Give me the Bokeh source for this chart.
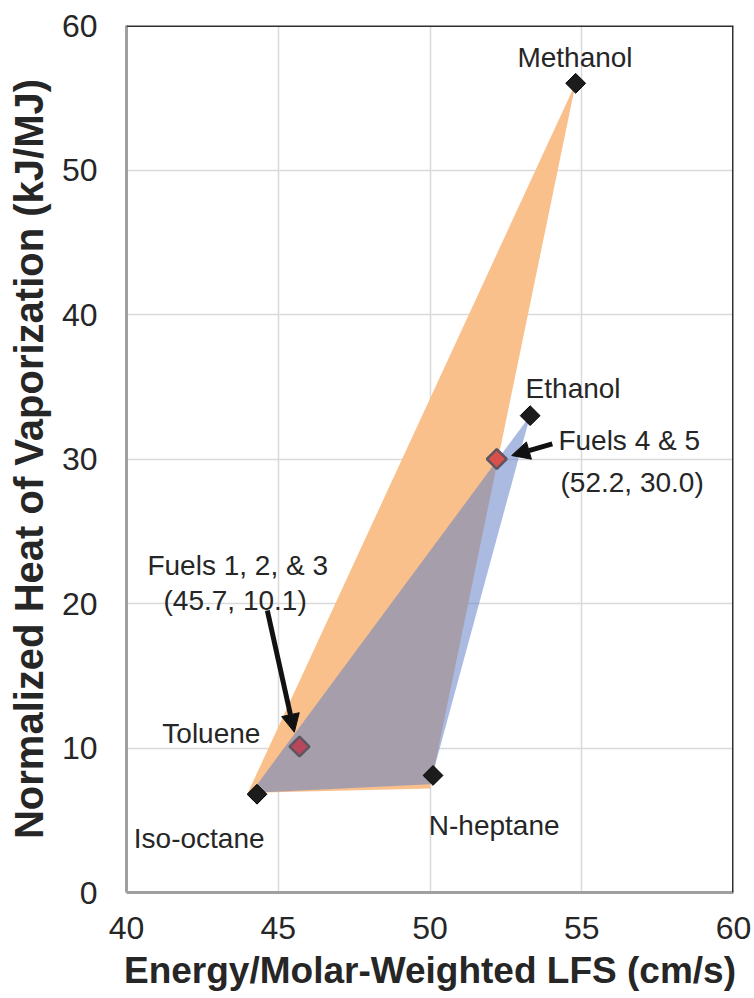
import numpy as np
from bokeh.plotting import figure
from bokeh.models import ColumnDataSource, Arrow, NormalHead, Range1d, FixedTicker, Span
from bokeh.embed import file_html
from bokeh.resources import INLINE
from bokeh.core.properties import value

# ---- data ----
fuels = ["Methanol", "Ethanol", "Toluene", "Iso-octane", "N-heptane"]
lfs = [54.8, 53.3, 45.7, 44.3, 50.1]
hov = [56.0, 33.0, 10.1, 6.8, 8.1]

blend_names = ["Fuels 1, 2, & 3", "Fuels 4 & 5"]
blend_lfs = [45.7, 52.2]
blend_hov = [10.1, 30.0]
blend_fill = ["#B8475C", "#D9504A"]

# shaded regions (vertices)
orange_x = [44.0, 54.8, 50.0]
orange_y = [6.9, 56.0, 7.2]
blue_x = [44.1, 53.3, 50.0]
blue_y = [6.9, 33.0, 7.5]

# annotation labels
label_text = ["Methanol", "Ethanol", "Toluene", "Iso-octane", "N-heptane",
              "Fuels 4 & 5", "(52.2, 30.0)", "Fuels 1, 2, & 3", "(45.7, 10.1)"]
label_x = [52.88, 53.15, 41.18, 40.24, 49.96, 54.23, 54.30, 40.69, 41.22]
label_y = [57.76, 34.88, 10.98, 3.72, 4.64, 31.28, 28.39, 22.63, 20.21]

# arrows
arrow_x0 = [44.64, 54.03]
arrow_y0 = [19.52, 31.05]
arrow_x1 = [45.53, 52.69]
arrow_y1 = [11.09, 30.24]

x_ticks = [40, 45, 50, 55, 60]
y_ticks = [0, 10, 20, 30, 40, 50, 60]

FONT = "Liberation Sans"
TXT = "#262626"

p = figure(width=754, height=998, x_range=Range1d(40, 60), y_range=Range1d(0, 60),
           output_backend="svg", toolbar_location=None,
           min_border_left=126, min_border_right=21, min_border_top=25, min_border_bottom=106)
p.background_fill_color = "white"
p.border_fill_color = "white"
p.outline_line_color = None

# grid
p.xaxis.ticker = FixedTicker(ticks=x_ticks)
p.yaxis.ticker = FixedTicker(ticks=y_ticks)
p.xgrid.ticker = FixedTicker(ticks=x_ticks)
p.ygrid.ticker = FixedTicker(ticks=y_ticks)
for g in (p.xgrid, p.ygrid):
    g.grid_line_color = "#d9d9d9"
    g.grid_line_width = 1.5

# axes
for ax in (p.xaxis, p.yaxis):
    ax.axis_line_color = "#a0a0a0"
    ax.axis_line_width = 3
    ax.major_tick_line_color = None
    ax.minor_tick_line_color = None
    ax.major_tick_out = 0
    ax.major_tick_in = 0
    ax.minor_tick_out = 0
    ax.major_label_text_font = FONT
    ax.major_label_text_font_size = "32px"
    ax.major_label_text_color = TXT
    ax.axis_label_text_font = FONT
    ax.axis_label_text_font_style = "bold"
    ax.axis_label_text_color = TXT

p.xaxis.axis_label = "Energy/Molar-Weighted LFS (cm/s)"
p.yaxis.axis_label = "Normalized Heat of Vaporization (kJ/MJ)"
p.xaxis.axis_label_text_font_size = "37px"
p.yaxis.axis_label_text_font_size = "40px"
p.xaxis.major_label_standoff = 24
p.yaxis.major_label_standoff = 29
p.xaxis.axis_label_standoff = 8
p.yaxis.axis_label_standoff = 8

# top and right frame lines
p.add_layout(Span(location=60, dimension="width", line_color="#303030", line_width=3))
p.add_layout(Span(location=60, dimension="height", line_color="#303030", line_width=3))

# shaded regions
p.patch(orange_x, orange_y, fill_color="#F9C08B", line_color=None)
p.patch(blue_x, blue_y, fill_color="#6482C8", fill_alpha=0.55, line_color=None)

# fuel markers
src = ColumnDataSource(dict(x=lfs, y=hov, name=fuels))
p.scatter("x", "y", source=src, marker="square", angle=np.pi / 4, size=14,
          fill_color="#1c1c1c", line_color="#000000", line_width=1)

# blend markers
bsrc = ColumnDataSource(dict(x=blend_lfs, y=blend_hov, name=blend_names, c=blend_fill))
p.scatter("x", "y", source=bsrc, marker="square", angle=np.pi / 4, size=14,
          fill_color="c", line_color="#5e5560", line_width=2.5)

# labels
lsrc = ColumnDataSource(dict(x=label_x, y=label_y, t=label_text))
p.text("x", "y", text="t", source=lsrc, text_font=value(FONT), text_font_size="28px",
       text_color=TXT, text_align="left", text_baseline="alphabetic")

# arrows
asrc = ColumnDataSource(dict(x0=arrow_x0, y0=arrow_y0, x1=arrow_x1, y1=arrow_y1))
p.add_layout(Arrow(end=NormalHead(size=18, fill_color="#111111", line_color="#111111"),
                   x_start="x0", y_start="y0", x_end="x1", y_end="y1", source=asrc,
                   line_color="#111111", line_width=5))

open("out.html", "w").write(file_html(p, INLINE))
